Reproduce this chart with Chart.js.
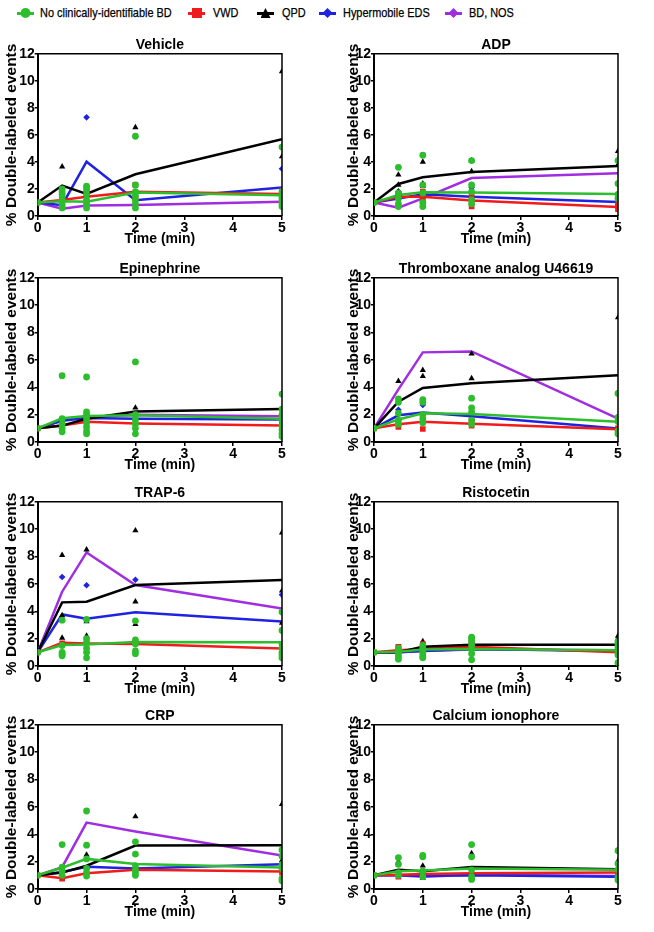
<!DOCTYPE html>
<html>
<head>
<meta charset="utf-8">
<script src="https://cdn.jsdelivr.net/npm/chart.js@4.4.1/dist/chart.umd.min.js"></script>
<style>
  body { margin: 0; background: #fff; font-family: "Liberation Sans", Arial, Helvetica, sans-serif; }
  #page { position: relative; width: 654px; height: 932px; overflow: hidden; }
  .panel { position: absolute; }
  .mk { position: absolute; top: 5px; width: 17px; height: 16px; }
  .mk .ln { position: absolute; left: 0; right: 0; top: 6.5px; height: 3px; }
  .mk .sh { position: absolute; left: 3.5px; top: 3px; width: 10px; height: 10px; }
  .txt { position: absolute; top: 5px; line-height: 16px; font-size: 13px; color: #000;
         white-space: nowrap; transform: scaleX(.84); transform-origin: left center;
         -webkit-text-stroke: 0.25px #000; }
</style>
</head>
<body>
<div id="page"></div>
<script>
// Platelet activation time courses: mean line per group + individual values.
const GROUPS = ["No clinically-identifiable BD", "VWD", "QPD", "Hypermobile EDS", "BD, NOS"];
const COLORS = ["#2dbd2d", "#ee1c1c", "#000000", "#1f22e0", "#a02de0"];
const SHAPES = ["circle", "rect", "triangle", "rectRot", "rectRot"];
const RADII  = [3.4, 4, 3.6, 3.3, 3.3];
const TIMES   = [0, 0.5, 1, 2, 5];
const X_TICKS = [0, 1, 2, 3, 4, 5];
const Y_TICKS = [0, 2, 4, 6, 8, 10, 12];
const TITLES = ["Vehicle", "ADP", "Epinephrine", "Thromboxane analog U46619",
                "TRAP-6", "Ristocetin", "CRP", "Calcium ionophore"];

// Means, one row per group (order of GROUPS), one value per time point.
const vehicleMean = [
  [1, 1.10, 1.06, 1.73, 1.53],
  [1, 1.19, 1.43, 1.80, 1.63],
  [1, 2.25, 1.63, 3.09, 5.68],
  [1, 0.80, 4.02, 1.16, 2.10],
  [1, 0.54, 0.77, 0.81, 1.06],
];
const adpMean = [
  [1, 1.55, 1.75, 1.73, 1.63],
  [1, 1.43, 1.43, 1.14, 0.67],
  [1, 2.37, 2.86, 3.26, 3.70],
  [1, 1.30, 1.60, 1.43, 1.04],
  [1, 0.62, 1.30, 2.81, 3.16],
];
const epiMean = [
  [1, 1.73, 1.90, 1.95, 1.70],
  [1, 1.20, 1.48, 1.36, 1.21],
  [1, 1.20, 1.70, 2.22, 2.42],
  [1, 1.55, 1.75, 1.70, 1.65],
  [1, 1.60, 1.80, 2.00, 1.88],
];
const txaMean = [
  [1, 1.65, 2.10, 2.05, 1.48],
  [1, 1.30, 1.48, 1.33, 0.94],
  [1, 2.94, 3.95, 4.30, 4.88],
  [1, 1.95, 2.15, 1.88, 0.99],
  [1, 3.85, 6.55, 6.62, 1.70],
];
const trapMean = [
  [1, 1.53, 1.58, 1.75, 1.73],
  [1, 1.70, 1.65, 1.60, 1.27],
  [1, 4.65, 4.70, 5.92, 6.28],
  [1, 3.77, 3.46, 3.92, 3.26],
  [1, 5.43, 8.30, 5.92, 4.21],
];
const ristoMean = [
  [1, 1.05, 1.20, 1.25, 1.15],
  [1, 1.15, 1.25, 1.40, 1.00],
  [1, 1.00, 1.40, 1.55, 1.55],
  [1, 1.00, 1.10, 1.25, 1.10],
  [1, 1.00, 1.10, 1.20, 1.15],
];
const crpMean = [
  [1, 1.55, 2.20, 1.83, 1.58],
  [1, 0.78, 1.15, 1.40, 1.27],
  [1, 1.20, 1.70, 3.17, 3.20],
  [1, 1.25, 1.63, 1.50, 1.80],
  [1, 1.60, 4.85, 4.20, 2.44],
];
const caMean = [
  [1, 1.30, 1.35, 1.50, 1.40],
  [1, 1.05, 1.10, 1.15, 1.20],
  [1, 1.40, 1.30, 1.60, 1.45],
  [1, 1.00, 0.95, 1.00, 0.90],
  [1, 1.00, 0.90, 1.05, 0.95],
];

// Individual values: per group, one list per time point.
const vehiclePts = [
  [[1], [2.0, 1.8, 1.6, 1.4, 1.2, 1.0, 0.8, 0.6], [2.2, 2.0, 1.6, 1.2, 1.0, 0.8, 0.6], [5.9, 2.3, 1.8, 1.5, 1.2, 0.9, 0.6], [5.1, 1.8, 1.5, 1.3, 1.1, 0.9, 0.7]],
  [[1], [1.3], [1.8, 1.6], [2.3, 1.3], [1.9, 1.6, 1.4]],
  [[1], [3.65], [1.6], [6.55, 1.5], [10.7, 4.4]],
  [[1], [], [7.3], [1.2], [3.5]],
  [[1], [], [], [], []],
];
const adpPts = [
  [[1], [3.6, 1.7, 1.3, 0.9, 0.7], [4.5, 2.3, 1.7, 1.0, 0.7], [4.1, 2.3, 1.8, 1.2, 0.9], [4.1, 2.4, 1.6, 1.3]],
  [[1], [1.6, 1.4], [1.8, 1.5, 1.2, 1.0], [1.5, 1.2, 0.7], [0.9, 0.7, 0.5]],
  [[1], [3.05, 2.3, 1.8], [4.0, 2.4, 2.2], [4.1, 3.3], [4.8, 3.8, 2.4]],
  [[1], [1.8], [], [2.1], []],
  [[1], [], [], [], []],
];
const epiPts = [
  [[1], [4.85, 1.7, 1.3, 1.0, 0.75], [4.75, 2.2, 2.0, 1.7, 1.4, 1.1, 0.8, 0.6], [5.85, 2.0, 1.6, 1.3, 1.0, 0.6], [3.5, 2.4, 2.0, 1.6, 1.2, 0.9, 0.6, 0.4]],
  [[1], [], [], [], [1.5, 1.3]],
  [[1], [], [], [2.5], []],
  [[1], [], [], [], []],
  [[1], [], [], [], []],
];
const txaPts = [
  [[1], [3.15, 2.9, 2.1, 1.6, 1.3], [3.1, 2.9, 2.0, 1.7, 1.4], [3.2, 2.5, 2.2, 1.6, 1.3], [3.55, 1.8, 1.5, 0.8, 0.6]],
  [[1], [1.3, 1.1], [0.95], [1.6, 1.2], [1.0]],
  [[1], [4.45], [5.25, 4.8], [6.45, 4.65], [9.1]],
  [[1], [2.35], [2.7], [], []],
  [[1], [], [], [], []],
];
const trapPts = [
  [[1], [3.35, 1.5, 1.0, 0.85, 0.75], [3.4, 2.0, 1.7, 1.3, 1.0, 0.6], [3.3, 1.9, 1.6, 1.1, 0.9], [3.95, 2.6, 1.6, 1.3, 1.0, 0.8, 0.6]],
  [[1], [1.65], [], [1.7], []],
  [[1], [8.1, 3.7, 2.05, 1.6], [8.5, 3.25, 2.2, 1.9], [9.9, 4.7, 3.05], [9.75, 5.5, 3.15]],
  [[1], [6.5], [5.9], [6.3], [5.2]],
  [[1], [], [], [], []],
];
const ristoPts = [
  [[1], [1.3, 1.1, 0.9, 0.7, 0.5], [1.5, 1.3, 1.1, 0.9, 0.7, 0.6], [2.1, 2.0, 1.8, 1.5, 1.2, 0.9, 0.45], [1.8, 1.6, 1.4, 1.2, 1.0, 0.8, 0.25]],
  [[1], [1.4, 1.3], [1.6], [1.9, 1.7], [1.3, 0.9]],
  [[1], [], [1.8], [], [2.2, 2.0]],
  [[1], [], [], [], []],
  [[1], [], [], [], []],
];
const crpPts = [
  [[1], [3.25, 1.6, 1.3, 1.0], [5.7, 3.2, 2.2, 1.5, 1.2, 0.95], [3.45, 2.55, 1.7, 1.4, 1.2, 1.0], [2.85, 2.4, 1.8, 1.5, 0.75, 0.6]],
  [[1], [0.75], [], [], [1.2]],
  [[1], [], [2.5], [5.3], [6.2, 2.1]],
  [[1], [], [], [], []],
  [[1], [], [], [], []],
];
const caPts = [
  [[1], [2.3, 1.8, 1.2, 1.0], [2.45, 2.35, 1.3, 0.9], [3.25, 2.35, 1.4, 0.9, 0.7], [2.8, 1.85, 1.4, 0.85, 0.65]],
  [[1], [0.9], [1.2], [], [1.3, 1.0]],
  [[1], [2.0, 1.1], [1.7, 1.2, 0.8], [2.6, 0.9], [2.05, 1.5, 0.8]],
  [[1], [], [], [], []],
  [[1], [], [], [], []],
];

const MEANS  = [vehicleMean, adpMean, epiMean, txaMean, trapMean, ristoMean, crpMean, caMean];
const POINTS = [vehiclePts, adpPts, epiPts, txaPts, trapPts, ristoPts, crpPts, caPts];

// Page geometry (layout only).
const COLS = [
  { left: 0,   width: 327, padL: 0,  yW: 37.7, padR: 45 },
  { left: 327, width: 327, padL: 15, yW: 32,   padR: 36 },
];
const ROW_TOP = [33, 257, 481, 704];
const ROW_H   = [213, 215, 215, 215];
const LEG_MARK_X = [17, 188, 257, 319, 445];
const LEG_TEXT_X = [40, 213, 282, 343, 469];

Chart.defaults.font.family = '"Liberation Sans", Arial, Helvetica, sans-serif';
Chart.defaults.color = "#000";

const page = document.getElementById("page");

// Legend
const CLIP = {
  circle: "circle(50% at 50% 50%)",
  rect: "none",
  triangle: "polygon(50% 0, 100% 100%, 0 100%)",
  rectRot: "polygon(50% 0, 100% 50%, 50% 100%, 0 50%)",
};
GROUPS.forEach((g, i) => {
  const mk = document.createElement("div");
  mk.className = "mk";
  mk.style.left = LEG_MARK_X[i] + "px";
  mk.innerHTML = `<div class="ln" style="background:${COLORS[i]}"></div>` +
    `<div class="sh" style="background:${COLORS[i]};clip-path:${CLIP[SHAPES[i]]}"></div>`;
  page.appendChild(mk);
  const t = document.createElement("div");
  t.className = "txt";
  t.style.left = LEG_TEXT_X[i] + "px";
  t.textContent = g;
  page.appendChild(t);
});

// Box frame: top and right edges of the plot area.
const frame = {
  id: "frame",
  afterDatasetsDraw(c) {
    const a = c.chartArea, ctx = c.ctx;
    ctx.save();
    ctx.strokeStyle = "#000";
    ctx.lineWidth = 1.5;
    ctx.beginPath();
    ctx.moveTo(a.left, a.top);
    ctx.lineTo(a.right, a.top);
    ctx.lineTo(a.right, a.bottom);
    ctx.stroke();
    ctx.restore();
  },
};

const boldFont = (size, lineHeight) => ({ size, weight: "bold", lineHeight });
const LINE_ORDER = [0, 2, 1, 3, 4];

TITLES.forEach((title, p) => {
  const col = COLS[p % 2];
  const row = Math.floor(p / 2);
  const box = document.createElement("div");
  box.className = "panel";
  box.style.left = col.left + "px";
  box.style.top = ROW_TOP[row] + "px";
  box.style.width = col.width + "px";
  box.style.height = ROW_H[row] + "px";
  const canvas = document.createElement("canvas");
  box.appendChild(canvas);
  page.appendChild(box);

  const datasets = [];
  // individual values (drawn on top)
  GROUPS.forEach((g, gi) => {
    datasets.push({
      label: g,
      data: TIMES.flatMap((t, ti) => POINTS[p][gi][ti].map(v => ({ x: t, y: v }))),
      showLine: false,
      pointStyle: SHAPES[gi],
      pointRadius: RADII[gi],
      pointBorderWidth: 0,
      backgroundColor: COLORS[gi],
      borderColor: COLORS[gi],
    });
  });
  // group means
  LINE_ORDER.forEach(gi => {
    datasets.push({
      label: GROUPS[gi] + " mean",
      data: TIMES.map((t, ti) => ({ x: t, y: MEANS[p][gi][ti] })),
      showLine: true,
      pointRadius: 0,
      borderWidth: 2.5,
      borderColor: COLORS[gi],
      backgroundColor: COLORS[gi],
      tension: 0,
    });
  });

  new Chart(canvas, {
    type: "scatter",
    data: { datasets },
    options: {
      responsive: true,
      maintainAspectRatio: false,
      animation: false,
      layout: { padding: { left: col.padL, right: col.padR, top: 0, bottom: 0 } },
      plugins: {
        legend: { display: false },
        tooltip: { enabled: false },
        title: {
          display: true, text: title, fullSize: false, color: "#000",
          font: boldFont(14, 1.2), padding: { top: 4, bottom: 0 },
        },
      },
      scales: {
        x: {
          type: "linear", min: 0, max: 5,
          afterBuildTicks: s => { s.ticks = X_TICKS.map(value => ({ value })); },
          afterFit: s => { s.height = 30; },
          grid: { drawOnChartArea: false, drawTicks: true, tickLength: 4, color: "#000", lineWidth: 1.5 },
          border: { color: "#000", width: 2 },
          ticks: { color: "#000", padding: 0, autoSkip: false, maxRotation: 0, font: boldFont(14, 1.2) },
          title: { display: true, text: "Time (min)", color: "#000", font: boldFont(14, 1), padding: 0 },
        },
        y: {
          type: "linear", min: 0, max: 12,
          afterBuildTicks: s => { s.ticks = Y_TICKS.map(value => ({ value })); },
          afterFit: s => { s.width = col.yW; },
          grid: { drawOnChartArea: false, drawTicks: true, tickLength: 3, color: "#000", lineWidth: 1.5 },
          border: { color: "#000", width: 2 },
          ticks: { color: "#000", padding: 0, autoSkip: false, font: boldFont(14, 1.2) },
          title: { display: true, text: "% Double-labeled events", color: "#000",
                   font: boldFont(15.5, 1), padding: { top: 4.25, bottom: 0 } },
        },
      },
    },
    plugins: [frame],
  });
});
</script>
</body>
</html>
